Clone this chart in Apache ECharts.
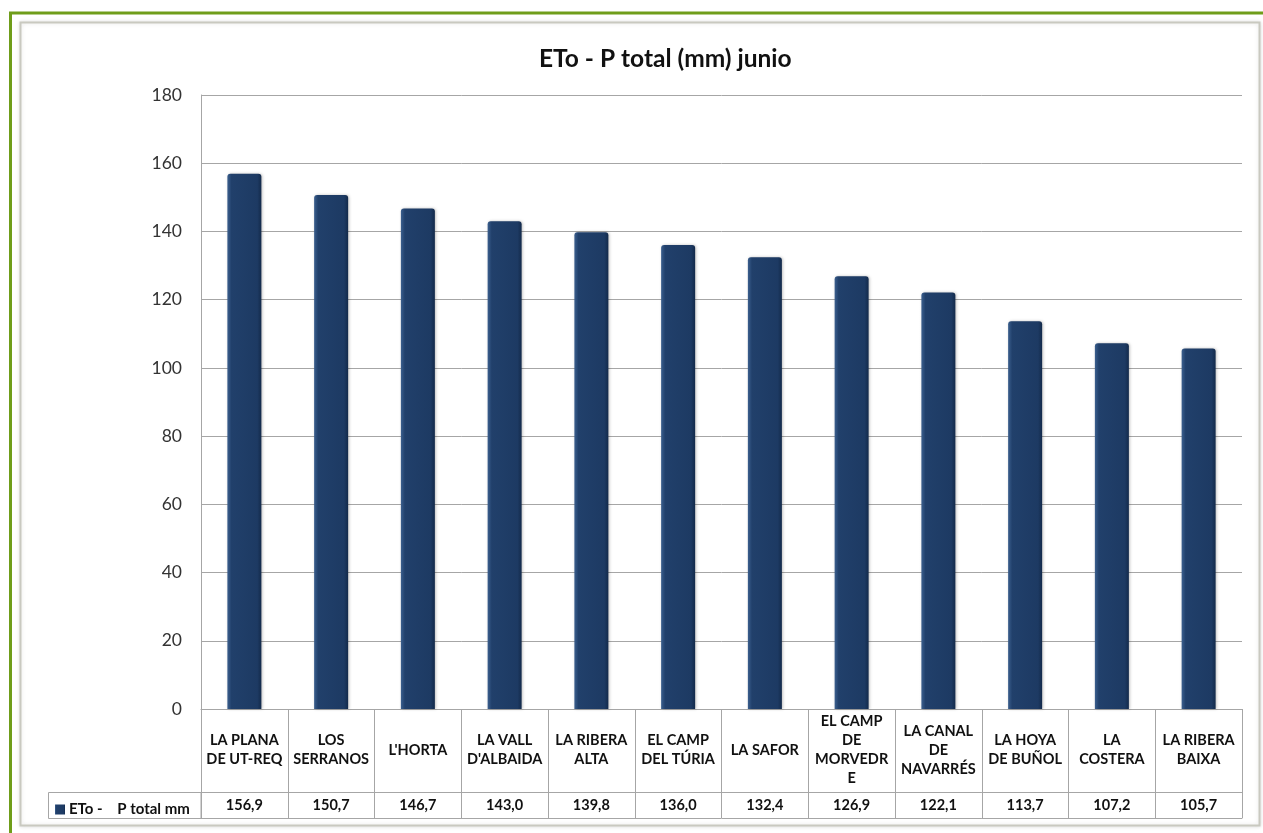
<!DOCTYPE html>
<html>
<head>
<meta charset="utf-8">
<script src="https://cdn.jsdelivr.net/npm/echarts@6/dist/echarts.min.js"></script>
<style>
html,body{margin:0;padding:0;background:#fff;}
#c{width:1263px;height:833px;}
</style>
</head>
<body>
<div id="c"></div>
<script>
const titleText = 'ETo - P total (mm) junio';
const seriesName = 'ETo -    P total mm';
const categories = ['LA PLANA\nDE UT-REQ','LOS\nSERRANOS',"L'HORTA","LA VALL\nD'ALBAIDA",'LA RIBERA\nALTA','EL CAMP\nDEL TÚRIA','LA SAFOR','EL CAMP\nDE\nMORVEDR\nE','LA CANAL\nDE\nNAVARRÉS','LA HOYA\nDE BUÑOL','LA\nCOSTERA','LA RIBERA\nBAIXA'];
const values = [156.9,150.7,146.7,143.0,139.8,136.0,132.4,126.9,122.1,113.7,107.2,105.7];
const yTicks = {min:0, max:180, interval:20};

const FONT = 'Lato, "Open Sans", sans-serif';
const lineCol = '#a6a6a6';
const barGrad = new echarts.graphic.LinearGradient(0,0,1,0,[
  {offset:0,color:'#3b5f8e'},{offset:0.12,color:'#21406b'},
  {offset:0.88,color:'#1d3a63'},{offset:1,color:'#132a4b'}
]);

const chart = echarts.init(document.getElementById('c'));
const fmtVal = v => v.toFixed(1).replace('.', ',');

chart.setOption({
  animation:false,
  backgroundColor:'#ffffff',
  title:{text:titleText,left:534,top:42,
    textStyle:{fontFamily:FONT,fontSize:24.5,fontWeight:'bold',color:'#111'}},
  legend:{show:true,left:50,top:797,itemWidth:10,itemHeight:10,itemGap:4,
    icon:'rect',selectedMode:false,
    textStyle:{fontFamily:FONT,fontSize:15,fontWeight:'bold',color:'#111',padding:[0,0,0,-1]},
    data:[seriesName]},
  grid:{left:201,right:21,top:95,bottom:124,containLabel:false},
  graphic:[
    {type:'rect',shape:{x:20.5,y:22.5,width:1239,height:803},
      style:{fill:'#fff',stroke:'#c9c9c0',lineWidth:2,shadowColor:'rgba(0,0,0,0.12)',shadowBlur:4},z:-10},
    {type:'line',shape:{x1:9,y1:13,x2:1263,y2:13},style:{stroke:'#6f9d1a',lineWidth:3},z:-5},
    {type:'line',shape:{x1:10.5,y1:12,x2:10.5,y2:833},style:{stroke:'#6f9d1a',lineWidth:3},z:-5},
    {type:'rect',shape:{x:48.5,y:792.5,width:152.5,height:26},
      style:{fill:'none',stroke:lineCol,lineWidth:1},z:1}
  ],
  xAxis:[
    {type:'category',data:categories,position:'bottom',
      axisLine:{show:true,lineStyle:{color:lineCol,width:1}},
      axisTick:{show:true,length:109,lineStyle:{color:lineCol,width:1},alignWithLabel:false},
      axisLabel:{interval:0,margin:41,verticalAlign:'middle',lineHeight:19,
        fontFamily:FONT,fontSize:14.5,fontWeight:'bold',color:'#111',align:'center'}},
    {type:'category',data:categories,position:'bottom',offset:83,
      axisLine:{show:true,lineStyle:{color:lineCol,width:1}},
      axisTick:{show:false},
      axisLabel:{interval:0,margin:13,verticalAlign:'middle',
        formatter:(v,i)=>fmtVal(values[i]),
        fontFamily:FONT,fontSize:14.5,fontWeight:'bold',color:'#111'}},
    {type:'category',data:categories,position:'bottom',offset:109,
      axisLine:{show:true,lineStyle:{color:lineCol,width:1}},
      axisTick:{show:false},axisLabel:{show:false}}
  ],
  yAxis:{type:'value',min:yTicks.min,max:yTicks.max,interval:yTicks.interval,
    axisLine:{show:true,lineStyle:{color:lineCol}},
    axisTick:{show:false},
    splitLine:{show:true,lineStyle:{color:lineCol,width:1}},
    axisLabel:{margin:19,fontFamily:FONT,fontSize:17.5,color:'#333'}},
  series:[{
    name:seriesName,type:'bar',xAxisIndex:0,data:values,barWidth:34,
    itemStyle:{color:barGrad,borderRadius:[3,3,0,0],
      shadowColor:'rgba(0,0,0,0.25)',shadowBlur:3,shadowOffsetX:1,shadowOffsetY:0}
  }]
});
</script>
</body>
</html>
